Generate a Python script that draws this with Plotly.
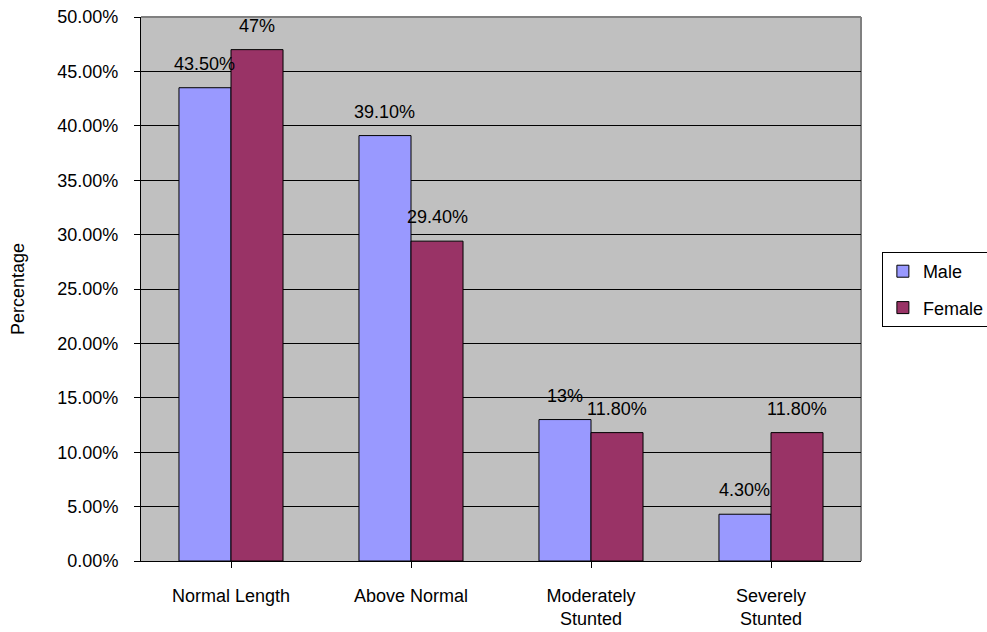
import plotly.graph_objects as go

categories = ["Normal Length", "Above Normal", "Moderately<br>Stunted", "Severely<br>Stunted"]
male = [43.5, 39.1, 13.0, 4.3]
female = [47.0, 29.4, 11.8, 11.8]
male_labels = ["43.50%", "39.10%", "13%", "4.30%"]
female_labels = ["47%", "29.40%", "11.80%", "11.80%"]
y_ticks = [0, 5, 10, 15, 20, 25, 30, 35, 40, 45, 50]
y_ticktext = [f"{v:.2f}%" for v in y_ticks]

FONT = "Liberation Sans, Arial, sans-serif"
FS = 18
idx = list(range(len(categories)))

fig = go.Figure()
fig.add_trace(go.Bar(name="Male", x=idx, y=male, marker=dict(color="#9999FF", line=dict(color="black", width=1)),
                     legendgroup="m"))
fig.add_trace(go.Bar(name="Female", x=idx, y=female, marker=dict(color="#993366", line=dict(color="black", width=1)),
                     legendgroup="f"))

bargap = 0.422
half = (1 - bargap) / 4
for i in idx:
    fig.add_annotation(x=i - half, y=male[i], text=male_labels[i], showarrow=False, yshift=24,
                       yanchor="middle", xref="x", yref="y", font=dict(family=FONT, size=FS, color="black"))
    fig.add_annotation(x=i + half, y=female[i], text=female_labels[i], showarrow=False, yshift=24,
                       yanchor="middle", xref="x", yref="y", font=dict(family=FONT, size=FS, color="black"))

fig.add_shape(type="line", xref="paper", yref="paper", x0=1, x1=1, y0=0, y1=1,
              line=dict(color="#808080", width=2), layer="below")
fig.add_shape(type="line", xref="paper", yref="paper", x0=0, x1=1, y0=1, y1=1,
              line=dict(color="#808080", width=2), layer="above")

fig.update_layout(
    width=987, height=632,
    margin=dict(l=141, r=126, t=17, b=71, autoexpand=False),
    paper_bgcolor="white", plot_bgcolor="#C0C0C0",
    barmode="group", bargap=bargap, bargroupgap=0,
    font=dict(family=FONT, size=FS, color="black"),
    showlegend=True,
    legend=dict(x=1.029, xanchor="left", y=0.568, yanchor="top", bgcolor="white",
                bordercolor="black", borderwidth=1, tracegroupgap=10,
                font=dict(family=FONT, size=FS, color="black")),
    xaxis=dict(tickmode="array", tickvals=idx, ticktext=categories, range=[-0.5, 3.5],
               showline=True, linecolor="black", linewidth=1, ticks="outside", ticklen=6,
               tickcolor="black", showgrid=False, zeroline=False, tickson="boundaries",
               ticklabelstandoff=12, automargin=False),
    yaxis=dict(range=[0, 50], tickmode="array", tickvals=y_ticks, ticktext=y_ticktext,
               showline=True, linecolor="black", linewidth=1, ticks="outside", ticklen=6,
               tickcolor="black", showgrid=True, gridcolor="black", gridwidth=1, zeroline=False,
               ticklabelstandoff=12, automargin=False,
               title=dict(text="Percentage", font=dict(family=FONT, size=FS), standoff=28)),
)

fig.write_html("out.html")
